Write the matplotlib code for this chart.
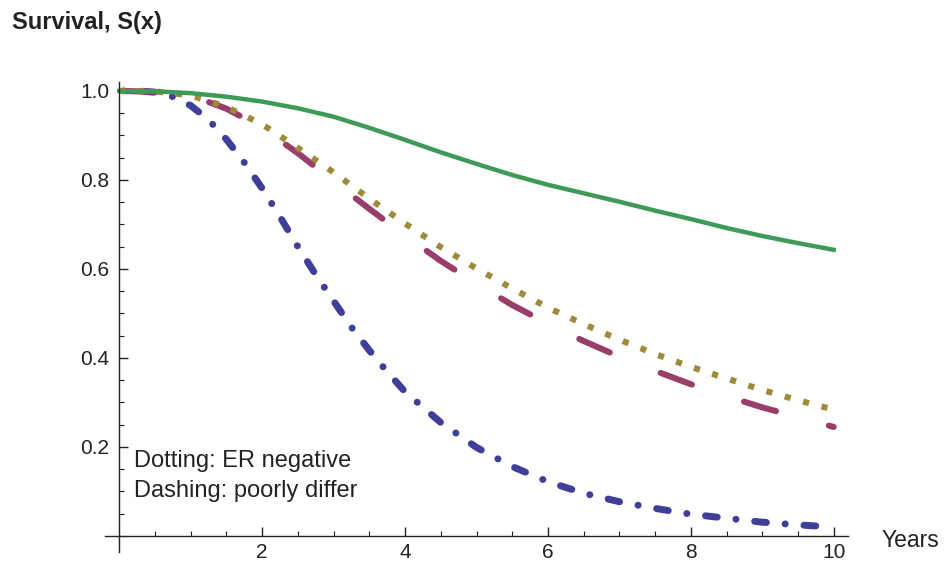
import numpy as np
import matplotlib
matplotlib.use("Agg")
from matplotlib import pyplot as plt
from matplotlib.ticker import FixedLocator, MultipleLocator

plt.rcParams['font.family'] = ['Liberation Sans', 'DejaVu Sans']
plt.rcParams['lines.scale_dashes'] = False

# survival curves
years = [0, 0.5, 1, 1.5, 2, 2.5, 3, 3.5, 4, 4.5, 5, 5.5, 6, 6.5, 7, 7.5, 8, 8.5, 9, 9.5, 10]
s_green = [1.0, 0.999, 0.995, 0.987, 0.976, 0.961, 0.942, 0.917, 0.890, 0.862, 0.836,
           0.811, 0.789, 0.770, 0.751, 0.731, 0.712, 0.692, 0.674, 0.658, 0.643]
s_olive = [1.0, 0.999, 0.990, 0.964, 0.925, 0.872, 0.817, 0.758, 0.702, 0.649, 0.601,
           0.556, 0.513, 0.476, 0.441, 0.409, 0.380, 0.354, 0.328, 0.305, 0.284]
s_magenta = [1.0, 0.998, 0.990, 0.960, 0.917, 0.860, 0.797, 0.735, 0.675, 0.618, 0.567,
             0.519, 0.477, 0.438, 0.403, 0.371, 0.341, 0.314, 0.289, 0.267, 0.245]
years_blue = [0, 0.25, 0.5, 0.75, 1, 1.25, 1.5, 1.75, 2, 2.25, 2.5, 2.75, 3, 3.25, 3.5, 3.75,
              4, 4.5, 5, 5.5, 6, 6.5, 7, 7.5, 8, 8.5, 9, 9.5, 10]
s_blue = [1.0, 1.0, 0.997, 0.987, 0.967, 0.935, 0.891, 0.839, 0.781, 0.717, 0.650, 0.587,
          0.528, 0.469, 0.417, 0.369, 0.324, 0.255, 0.199, 0.156, 0.122, 0.096, 0.077,
          0.062, 0.049, 0.040, 0.031, 0.025, 0.020]

x_major = [2, 4, 6, 8, 10]
y_major = [0.2, 0.4, 0.6, 0.8, 1.0]

fig = plt.figure(figsize=(9.44, 5.61), dpi=100)
ax = fig.add_axes([105/944, 1 - 552/561, 743/944, 470/561])

ax.plot(years_blue, s_blue, color='#3d3f99', lw=5.0, solid_capstyle='round',
        dash_capstyle='round', linestyle=(19.0, (8.5, 13.5, 0.1, 13.5)))
ax.plot(years, s_magenta, color='#993d6b', lw=4.4, dash_capstyle='round',
        linestyle=(61.3, (24, 39.5)))
ax.plot(years, s_olive, color='#9e8b3a', lw=4.4, dash_capstyle='butt',
        linestyle=(0, (4.4, 9.3)))
ax.plot(years, s_green, color='#3d9a57', lw=3.2)

ax.set_xlim(-0.2, 10.2)
ax.set_ylim(-0.036, 1.02)

for side in ['top', 'right']:
    ax.spines[side].set_visible(False)
ax.spines['left'].set_position(('data', 0))
ax.spines['bottom'].set_position(('data', 0))
for side in ['left', 'bottom']:
    ax.spines[side].set_linewidth(1.0)
    ax.spines[side].set_color('#222222')

ax.xaxis.set_major_locator(FixedLocator(x_major))
ax.yaxis.set_major_locator(FixedLocator(y_major))
ax.xaxis.set_minor_locator(MultipleLocator(0.5))
ax.yaxis.set_minor_locator(MultipleLocator(0.05))
ax.set_xticklabels([str(v) for v in x_major])
ax.set_yticklabels([f"{v:.1f}" for v in y_major])
ax.tick_params(which='major', direction='in', length=6.5, width=1.0, color='#222222',
               labelsize=15, labelcolor='#222222')
ax.tick_params(which='minor', direction='in', length=3.5, width=0.8, color='#222222')
ax.tick_params(axis='x', which='major', pad=5)
ax.tick_params(axis='y', which='major', pad=7)

ax.text(10.67, -0.025, 'Years', fontsize=16.5, color='#222222', ha='left', va='baseline',
        clip_on=False)
ax.text(0.2, 0.156, 'Dotting: ER negative', fontsize=17, color='#222222', va='baseline')
ax.text(0.2, 0.088, 'Dashing: poorly differ', fontsize=17, color='#222222', va='baseline')

fig.text(12/944, 1 - 22/561, 'Survival, S(x)', fontsize=17, fontweight='bold',
         color='#222222', ha='left', va='center')

fig.savefig('out.png', dpi=100)
